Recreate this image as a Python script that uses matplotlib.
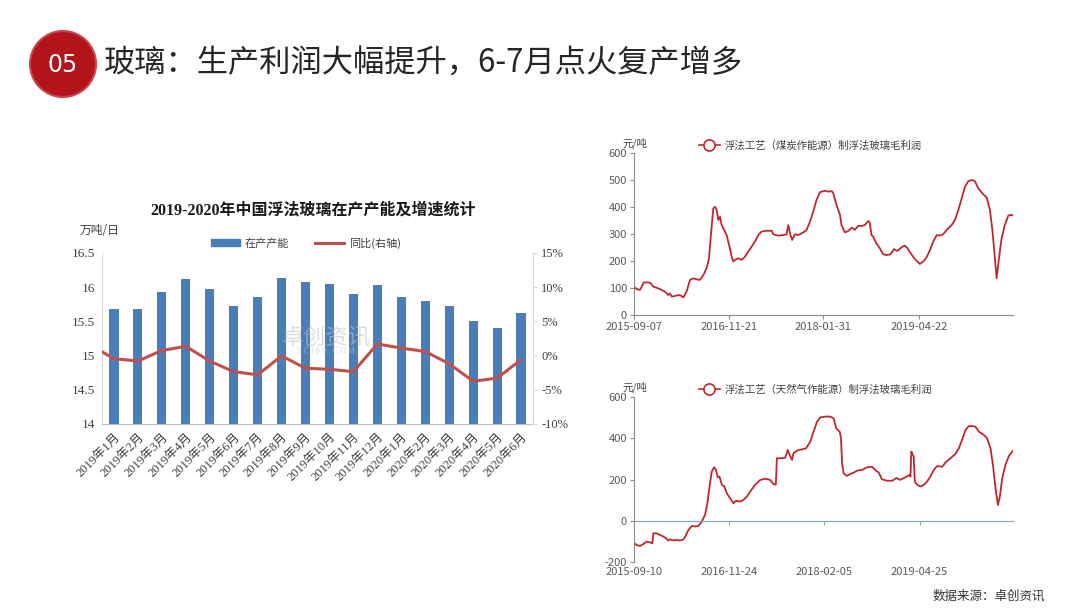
import numpy as np
import pandas as pd
import matplotlib
matplotlib.use('Agg')
import matplotlib.pyplot as plt
from matplotlib.patches import Ellipse, Patch
from matplotlib.lines import Line2D

plt.rcParams['font.family'] = ['Noto Sans CJK SC', 'DejaVu Sans']
plt.rcParams['axes.unicode_minus'] = False
SERIF = ['Liberation Serif', 'Noto Sans CJK SC']

# ---- left chart: capacity in production and yoy ----
months = ['2019年1月', '2019年2月', '2019年3月', '2019年4月', '2019年5月', '2019年6月',
          '2019年7月', '2019年8月', '2019年9月', '2019年10月', '2019年11月', '2019年12月',
          '2020年1月', '2020年2月', '2020年3月', '2020年4月', '2020年5月', '2020年6月']
capacity = [15.68, 15.68, 15.93, 16.12, 15.98, 15.72, 15.86, 16.13, 16.07,
            16.05, 15.90, 16.03, 15.86, 15.80, 15.72, 15.50, 15.41, 15.62]
# first value sits on the left edge of the plot, the rest on the bars
yoy = [0.55, -0.45, -0.8, 0.75, 1.35, -0.8, -2.35, -2.8, -0.05, -1.85,
       -2.0, -2.35, 1.7, 1.1, 0.6, -1.2, -3.75, -3.3, -0.6]
cap_ticks = [14, 14.5, 15, 15.5, 16, 16.5]
cap_tick_labels = ['14', '14.5', '15', '15.5', '16', '16.5']
yoy_ticks = [-10, -5, 0, 5, 10, 15]

# ---- right top: coal-fired float glass gross profit (days since start) ----
coal_start = '2015-09-07'
coal_days = [0, 12, 28, 46, 74, 90, 121, 144, 159, 167,
             175, 198, 213, 229, 244, 260, 275, 291, 306, 322,
             337, 348, 357, 368, 376, 384, 391, 399, 407, 414,
             430, 445, 453, 461, 469, 484, 500, 515, 530, 546,
             561, 577, 592, 615, 639, 646, 669, 693, 708, 716,
             724, 734, 747, 762, 786, 801, 817, 832, 847, 863,
             886, 902, 917, 925, 940, 948, 956, 963, 979, 994,
             1010, 1017, 1025, 1040, 1056, 1071, 1087, 1094, 1102, 1110,
             1125, 1141, 1156, 1172, 1191, 1206, 1222, 1242, 1257, 1268,
             1281, 1296, 1312, 1327, 1343, 1358, 1374, 1389, 1405, 1420,
             1435, 1451, 1474, 1490, 1505, 1521, 1536, 1552, 1567, 1582,
             1598, 1621, 1637, 1652, 1664, 1675, 1683, 1694, 1706, 1721,
             1737, 1745, 1757]
coal_profit = [105, 96, 93, 121, 120, 105, 96, 86, 74, 80,
               68, 72, 74, 65, 86, 130, 136, 132, 130, 148,
               173, 210, 296, 395, 401, 389, 352, 364, 333, 321,
               296, 247, 216, 198, 204, 210, 204, 216, 235, 253,
               272, 296, 309, 312, 312, 299, 294, 296, 299, 333,
               302, 278, 299, 296, 306, 315, 346, 383, 426, 455,
               460, 457, 459, 451, 407, 389, 370, 333, 306, 311,
               323, 321, 315, 330, 330, 333, 348, 343, 296, 290,
               265, 247, 225, 222, 225, 244, 237, 251, 257, 249,
               232, 215, 200, 189, 198, 214, 241, 272, 296, 294,
               299, 315, 333, 352, 389, 432, 475, 496, 500, 496,
               469, 447, 435, 389, 309, 210, 136, 210, 284, 333,
               368, 370, 370]
coal_tick_dates = ['2015-09-07', '2016-11-21', '2018-01-31', '2019-04-22']

# ---- right bottom: natural-gas-fired float glass gross profit ----
gas_start = '2015-09-10'
gas_days = [0, 12, 28, 43, 59, 74, 85, 90, 105, 121,
            136, 152, 159, 167, 183, 198, 213, 229, 237, 252,
            268, 283, 299, 314, 329, 340, 350, 360, 371, 380,
            388, 396, 407, 419, 430, 445, 461, 473, 492, 507,
            523, 538, 561, 585, 608, 631, 646, 657, 662, 685,
            701, 712, 721, 732, 739, 755, 778, 797, 817, 832,
            848, 863, 886, 909, 925, 937, 953, 959, 964, 971,
            987, 1002, 1018, 1033, 1056, 1080, 1103, 1118, 1134, 1149,
            1172, 1196, 1216, 1234, 1257, 1278, 1281, 1285, 1291, 1296,
            1301, 1312, 1327, 1343, 1358, 1373, 1389, 1404, 1428, 1443,
            1466, 1489, 1505, 1520, 1536, 1551, 1567, 1582, 1598, 1621,
            1636, 1652, 1664, 1675, 1686, 1695, 1706, 1721, 1737, 1752,
            1760]
gas_profit = [-106, -118, -122, -113, -101, -105, -109, -61, -61, -69,
              -77, -88, -96, -90, -96, -93, -96, -90, -77, -45,
              -25, -28, -25, -4, 28, 85, 166, 238, 259, 246,
              211, 214, 174, 166, 133, 109, 85, 97, 93, 101,
              117, 141, 174, 198, 204, 198, 178, 175, 303, 303,
              306, 343, 319, 295, 327, 340, 346, 351, 384, 432,
              480, 501, 505, 505, 496, 448, 432, 400, 278, 230,
              217, 227, 233, 243, 246, 259, 262, 246, 233, 201,
              194, 194, 207, 198, 211, 222, 214, 335, 319, 311,
              190, 174, 166, 174, 190, 214, 246, 265, 262, 282,
              303, 324, 351, 392, 440, 459, 459, 456, 432, 416,
              400, 351, 262, 157, 76, 117, 206, 271, 314, 335,
              343]
gas_tick_dates = ['2015-09-10', '2016-11-24', '2018-02-05', '2019-04-25']
profit_end = '2020-07-01'

W, H = 1080, 608
fig = plt.figure(figsize=(W / 100, H / 100), dpi=100)
fig.patch.set_facecolor('white')

# header
fig.patches.append(Ellipse((63 / W, 1 - 64 / H), 66 / W, 66 / H, transform=fig.transFigure,
                           facecolor='#b3141c', edgecolor='#c9474c', lw=1.5))
fig.text(63 / W, 1 - 65 / H, '05', color='white', fontsize=17, ha='center', va='center',
         family=['Liberation Sans Narrow', 'DejaVu Sans'])
fig.text(104 / W, 1 - 64 / H, '玻璃：生产利润大幅提升，6-7月点火复产增多',
         fontsize=22.5, color='#262626', ha='left', va='center')

# ---------------- left chart ----------------
BLUE = '#4a7ebb'
RED = '#c0504d'
ax1 = fig.add_axes([102 / W, 1 - 424 / H, 431 / W, 171 / H])
x = np.arange(len(months))
ax1.bar(x, capacity, width=0.38, color=BLUE, zorder=2)
ax1.set_xlim(-0.5, len(months) - 0.5)
ax1.set_ylim(cap_ticks[0], cap_ticks[-1])
ax1.set_yticks(cap_ticks)
ax1.set_yticklabels(cap_tick_labels, family=SERIF, fontsize=9.5, color='#404040')
ax1.set_xticks(x)
ax1.set_xticklabels(months, rotation=45, ha='right', rotation_mode='anchor',
                    family=SERIF, fontsize=9, color='#404040')
ax1.tick_params(axis='both', length=0, pad=5)
ax1.spines['top'].set_visible(False)
ax1.spines['right'].set_visible(False)
ax1.spines['left'].set_color('#d9d9d9')
ax1.spines['bottom'].set_color('#bfbfbf')

ax2 = ax1.twinx()
yoy_x = np.r_[ax1.get_xlim()[0], x]
ax2.plot(yoy_x, yoy, color=RED, lw=2.2, zorder=3)
ax2.set_ylim(yoy_ticks[0], yoy_ticks[-1])
ax2.set_yticks(yoy_ticks)
ax2.set_yticklabels([f'{v}%' for v in yoy_ticks], family=SERIF, fontsize=9, color='#404040')
ax2.tick_params(axis='y', length=3, color='#d9d9d9', pad=3)
for s in ['top', 'left', 'bottom']:
    ax2.spines[s].set_visible(False)
ax2.spines['right'].set_color('#d9d9d9')

fig.text(313 / W, 1 - 210 / H, '2019-2020年中国浮法玻璃在产产能及增速统计',
         family=SERIF, fontsize=11.5, fontweight='bold', color='#1a1a1a', ha='center', va='center')
fig.text(80 / W, 1 - 231 / H, '万吨/日', fontsize=8.5, color='#404040', ha='left', va='center')
ax1.legend(handles=[Patch(color=BLUE), Line2D([], [], color=RED, lw=2.2)],
           labels=['在产产能', '同比(右轴)'], loc='center', bbox_to_anchor=(0.473, 1.058),
           ncol=2, frameon=False, fontsize=8, handlelength=2.6, handleheight=0.5,
           columnspacing=2.4, handletextpad=0.4, labelcolor='#404040')

# watermark
fig.text(326 / W, 1 - 338 / H, '卓创资讯', fontsize=16, color='#c4c4c4', alpha=0.55,
         ha='center', va='center')
fig.text(326 / W, 1 - 352 / H, 'S C I 9 9 . C O M', fontsize=6, color='#c4c4c4', alpha=0.55,
         ha='center', va='center')


# ---------------- right charts ----------------
PRED = '#c0282d'


def profit_panel(rect, start, days, values, ylim, yticks, tick_dates, label, unit_y, zero_axis):
    ax = fig.add_axes(rect)
    dates = pd.Timestamp(start) + pd.to_timedelta(days, unit='D')
    ax.plot(dates, values, color=PRED, lw=1.3)
    ax.set_xlim(pd.Timestamp(start), pd.Timestamp(profit_end))
    ax.set_ylim(*ylim)
    ax.set_yticks(yticks)
    ax.set_xticks(pd.to_datetime(tick_dates))
    ax.set_xticklabels(tick_dates)
    ax.tick_params(labelsize=8, labelcolor='#595959', color='#8c8c8c', length=3, pad=2)
    ax.spines['top'].set_visible(False)
    ax.spines['right'].set_visible(False)
    ax.spines['left'].set_color('#8c8c8c')
    if zero_axis:
        ax.spines['bottom'].set_position(('data', 0))
        ax.spines['bottom'].set_color('#7fa6b8')
        ax.tick_params(axis='x', pad=30, color='#7fa6b8')
    else:
        ax.spines['bottom'].set_color('#8c8c8c')
    fig.text(622 / W, 1 - unit_y / H, '元/吨', fontsize=7.5, color='#404040', ha='left', va='center')
    ax.legend(handles=[Line2D([], [], color=PRED, lw=1.2, marker='o', ms=8,
                              mfc='white', mec=PRED, mew=1.2)],
              labels=[label], loc='center left', bbox_to_anchor=(0.16, 1.045),
              frameon=False, fontsize=7.5, handlelength=2.0, handletextpad=0.5,
              labelcolor='#404040', borderaxespad=0)
    return ax


profit_panel([634 / W, 1 - 315 / H, 379 / W, 162 / H], coal_start, coal_days, coal_profit,
             (0, 600), [0, 100, 200, 300, 400, 500, 600], coal_tick_dates,
             '浮法工艺（煤炭作能源）制浮法玻璃毛利润', 143, False)
profit_panel([634 / W, 1 - 562 / H, 379 / W, 165 / H], gas_start, gas_days, gas_profit,
             (-200, 600), [-200, 0, 200, 400, 600], gas_tick_dates,
             '浮法工艺（天然气作能源）制浮法玻璃毛利润', 387, True)

fig.text(1045 / W, 1 - 596 / H, '数据来源：卓创资讯', fontsize=9, color='#333333',
         ha='right', va='center')

fig.savefig('out.png', dpi=100, facecolor='white')
